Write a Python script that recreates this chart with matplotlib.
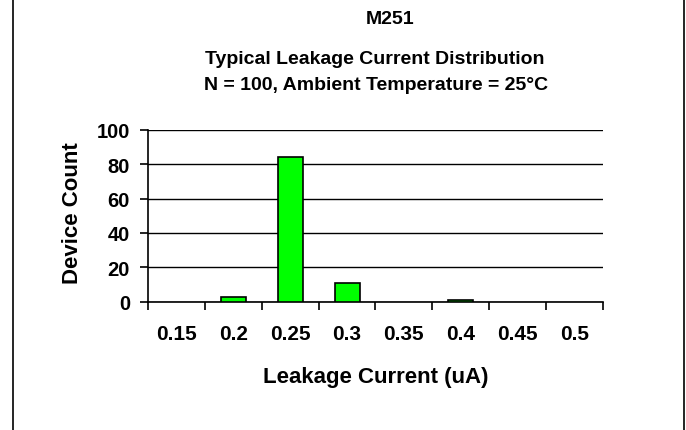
import numpy as np
import matplotlib
matplotlib.use("Agg")
import matplotlib.pyplot as plt
from matplotlib.lines import Line2D

plt.rcParams['font.family'] = ['Liberation Sans', 'DejaVu Sans']
plt.rcParams['font.weight'] = 'bold'

# data
categories = ['0.15', '0.2', '0.25', '0.3', '0.35', '0.4', '0.45', '0.5']
counts = [0, 3, 84, 11, 0, 1, 0, 0]
y_ticks = [0, 20, 40, 60, 80, 100]

fig = plt.figure(figsize=(6.86, 4.31), dpi=100)
ax = fig.add_axes([148 / 686, 1 - 302.7 / 431, 455 / 686, 172 / 431])

x = np.arange(len(categories))
# empty bins get no outline, as in the reference
edge_widths = [1.2 if c > 0 else 0 for c in counts]
ax.bar(x, counts, width=0.44, color='#00FF00', edgecolor='black',
       linewidth=edge_widths, zorder=3)

ax.set_xlim(-0.5, len(categories) - 0.5)
ax.set_ylim(0, 100)

# horizontal grid lines
ax.set_yticks(y_ticks)
ax.yaxis.grid(True, color='black', linewidth=1.0)
ax.set_axisbelow(True)

ax.set_xticks(x)
ax.set_xticklabels(categories, fontsize=15, fontweight='bold')
ax.set_xticks(np.arange(len(categories) + 1) - 0.5, minor=True)
ax.tick_params(axis='x', which='major', length=0, pad=16)
ax.tick_params(axis='x', which='minor', length=6, width=1.2, direction='out')
ax.tick_params(axis='y', length=6, width=1.2, direction='out', pad=7, labelsize=14.5)
for lbl in ax.get_yticklabels():
    lbl.set_fontweight('bold')

for side in ['top', 'right']:
    ax.spines[side].set_visible(False)
ax.spines['left'].set_linewidth(1.2)
ax.spines['bottom'].set_linewidth(1.2)

ax.set_ylabel('Device Count', fontsize=16, fontweight='bold')
ax.yaxis.set_label_coords(-(148 - 72) / 455, (302.7 - 213) / 172)
ax.set_xlabel('Leakage Current (uA)', fontsize=16, fontweight='bold')
ax.xaxis.set_label_coords((375.5 - 148) / 455, -(378 - 302.7) / 172)
ax.xaxis.label.set_va('center')
ax.yaxis.label.set_va('center')

fig.text(390 / 686, 1 - 20 / 431, 'M251', ha='center', va='center', fontsize=14, fontweight='bold')
fig.text(375 / 686, 1 - 60 / 431, 'Typical Leakage Current Distribution',
         ha='center', va='center', fontsize=14, fontweight='bold')
fig.text(376 / 686, 1 - 86 / 431, 'N = 100, Ambient Temperature = 25°C',
         ha='center', va='center', fontsize=14, fontweight='bold')

# outer frame lines on left and right
fig.add_artist(Line2D([13 / 686, 13 / 686], [0, 1], color='black', linewidth=1.2))
fig.add_artist(Line2D([684 / 686, 684 / 686], [0, 1], color='black', linewidth=1.2))

fig.savefig('out.png', dpi=100)
